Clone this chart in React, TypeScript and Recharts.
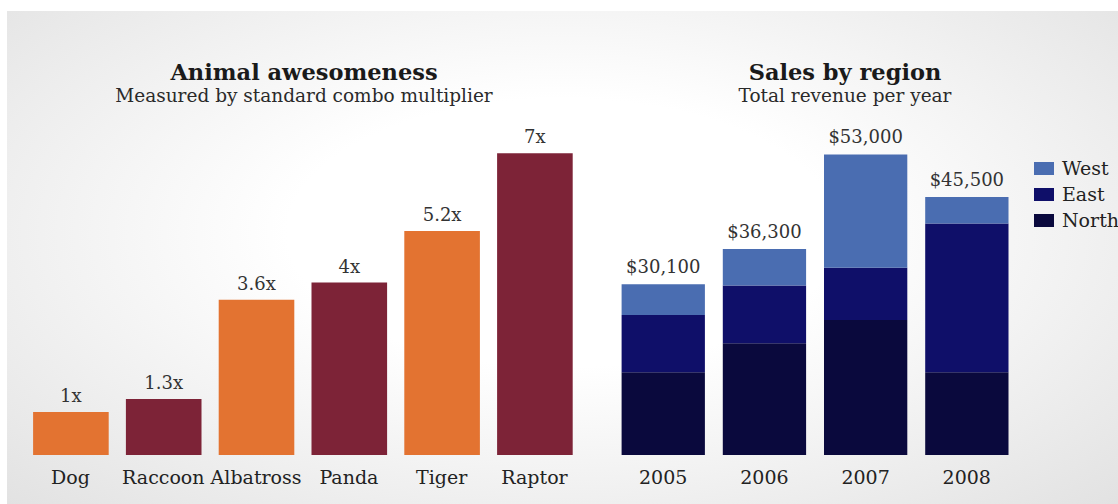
import { BarChart, Bar, XAxis, YAxis, Cell, LabelList, Legend } from "recharts";

// left chart
const animals = ["Dog", "Raccoon", "Albatross", "Panda", "Tiger", "Raptor"];
const multipliers = [1, 1.3, 3.6, 4, 5.2, 7];
const animalColors = ["#e37331", "#7d2337"];

// right chart
const years = ["2005", "2006", "2007", "2008"];
const north = [14600, 19700, 23800, 14600];
const east = [10100, 10200, 9200, 26200];
const west = [5400, 6400, 20000, 4700];
const totals = [30100, 36300, 53000, 45500];
const regionColors: Record<string, string> = { North: "#0a093d", East: "#0f0f69", West: "#4a6db1" };
const legendOrder = ["West", "East", "North"];

const animalData = animals.map((name, i) => ({ name, value: multipliers[i] }));
const salesData = years.map((year, i) => ({
  year,
  North: north[i],
  East: east[i],
  West: west[i],
  total: totals[i],
}));

const FONT = '"DejaVu Serif", serif';

const RegionLegend = (props: any) => {
  const items = legendOrder
    .map((k) => (props.payload || []).find((p: any) => p.value === k))
    .filter(Boolean);
  return (
    <div style={{ width: 100, fontFamily: FONT }}>
      {items.map((it: any) => (
        <div key={it.value} style={{ position: "relative", height: 26 }}>
          <div style={{ position: "absolute", left: 0, top: 0, width: 20, height: 13.3, background: it.color }} />
          <span
            style={{
              position: "absolute",
              left: 27.7,
              top: -2.7,
              fontSize: 19,
              lineHeight: "19px",
              color: "#222",
              whiteSpace: "nowrap",
            }}
          >
            {it.value}
          </span>
        </div>
      ))}
    </div>
  );
};

const Title = ({ left, width, title, sub }: { left: number; width: number; title: string; sub: string }) => (
  <>
    <div style={{ position: "absolute", left, width, top: 53, textAlign: "center", fontSize: 22.5, lineHeight: "22px", fontWeight: "bold", color: "#1a1a1a" }}>
      {title}
    </div>
    <div style={{ position: "absolute", left, width, top: 79, textAlign: "center", fontSize: 18.5, lineHeight: "18px", color: "#2a2a2a" }}>
      {sub}
    </div>
  </>
);

export default function App() {
  return (
    <div style={{ position: "relative", width: 1118, height: 504, overflow: "hidden", fontFamily: FONT }}>
      <style>{`html, body { margin: 0; overflow: hidden; }`}</style>
      <div style={{ position: "absolute", left: 8, top: 8, width: 1110, height: 496 }}>
        <div
          style={{
            position: "absolute",
            left: -1,
            top: 3,
            width: 1111,
            height: 493,
            background: "radial-gradient(ellipse at 50% 45%, #ffffff 35%, #e2e2e2 100%)",
          }}
        />
        <Title left={96} width={400} title="Animal awesomeness" sub="Measured by standard combo multiplier" />
        <Title left={637} width={400} title="Sales by region" sub="Total revenue per year" />

        <div style={{ position: "absolute", left: 0, top: 0 }}>
          <BarChart width={600} height={496} data={animalData} margin={{ top: 145.3, right: 27.1, left: 16.1, bottom: 0 }}>
            <XAxis
              dataKey="name"
              height={49}
              axisLine={false}
              tickLine={false}
              tickMargin={10}
              interval={0}
              tick={{ fill: "#222", fontSize: 19, fontFamily: FONT }}
            />
            <YAxis hide domain={[0, 7]} />
            <Bar dataKey="value" barSize={75.6} isAnimationActive={false}>
              {animalData.map((d, i) => (
                <Cell key={d.name} fill={animalColors[i % 2]} />
              ))}
              <LabelList
                dataKey="value"
                position="top"
                offset={10}
                formatter={(v: any) => `${v}x`}
                style={{ fill: "#333", fontSize: 18, fontFamily: FONT }}
              />
            </Bar>
          </BarChart>
        </div>

        <div style={{ position: "absolute", left: 552, top: 0 }}>
          <BarChart width={558} height={496} data={salesData} margin={{ top: 146.4, right: 100.6, left: 52.6, bottom: 0 }}>
            <XAxis
              dataKey="year"
              height={49}
              axisLine={false}
              tickLine={false}
              tickMargin={10}
              tick={{ fill: "#222", fontSize: 19, fontFamily: FONT }}
            />
            <YAxis hide domain={[0, 53000]} />
            <Legend
              layout="horizontal"
              verticalAlign="middle"
              align="center"
              content={<RegionLegend />}
              wrapperStyle={{ left: 474.3, top: 153.7, width: 100 }}
            />
            <Bar dataKey="North" stackId="s" barSize={83.3} fill={regionColors.North} isAnimationActive={false} />
            <Bar dataKey="East" stackId="s" barSize={83.3} fill={regionColors.East} isAnimationActive={false} />
            <Bar dataKey="West" stackId="s" barSize={83.3} fill={regionColors.West} isAnimationActive={false}>
              <LabelList
                dataKey="total"
                position="top"
                offset={11}
                formatter={(v: any) => `$${Number(v).toLocaleString("en-US")}`}
                style={{ fill: "#333", fontSize: 18, fontFamily: FONT }}
              />
            </Bar>
          </BarChart>
        </div>
      </div>
    </div>
  );
}
